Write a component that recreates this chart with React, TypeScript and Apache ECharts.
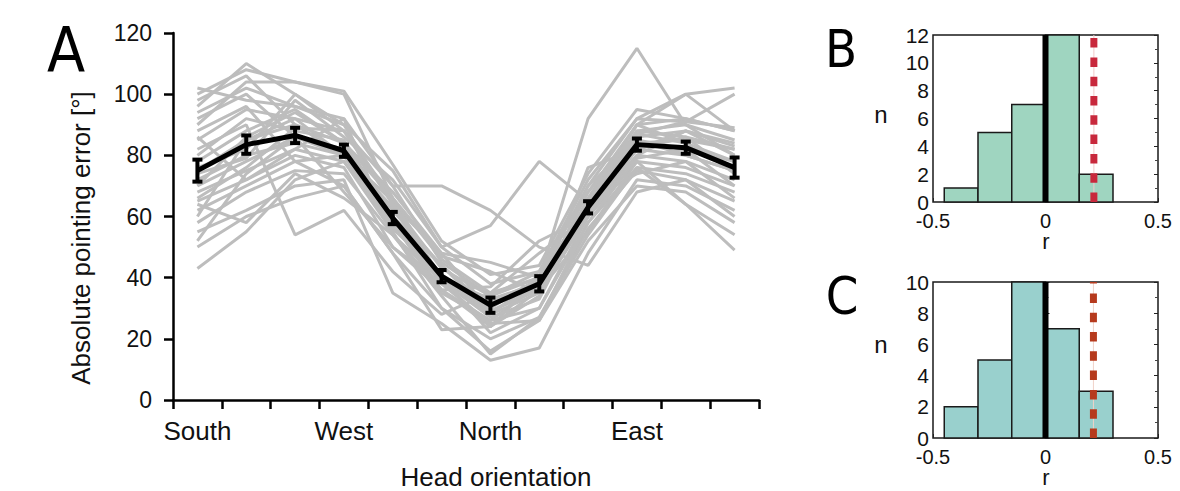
import React, { useEffect, useRef } from "react";
import * as echarts from "echarts";

// ---------- Panel A data ----------
const headOrientations = ["South", "", "", "West", "", "", "North", "", "", "East", "", ""];
const yTicksA = [0, 20, 40, 60, 80, 100, 120];
const meanError = [75, 83.5, 86.5, 81.5, 59.5, 40.5, 31, 38, 63, 83.5, 82.5, 76];
const semError = [3.6, 3, 2.5, 2, 2, 2, 2.5, 2.5, 2, 2, 2, 3.3];
const subjectErrors = [
  [102, 98, 96, 92, 70, 45, 34, 40, 70, 92, 91, 89],
  [96, 110, 100, 90, 75, 50, 38, 42, 72, 92, 100, 102],
  [90, 104, 104, 101, 77, 52, 41, 44, 74, 95, 92, 88],
  [85, 95, 92, 88, 64, 48, 29, 36, 66, 90, 92, 88],
  [80, 92, 88, 85, 60, 44, 28, 40, 62, 88, 90, 85],
  [78, 88, 95, 84, 66, 46, 35, 40, 64, 86, 88, 80],
  [75, 85, 90, 80, 58, 36, 24, 34, 64, 84, 85, 82],
  [72, 80, 84, 80, 65, 40, 33, 38, 60, 85, 82, 78],
  [70, 78, 86, 82, 62, 44, 30, 40, 63, 82, 80, 75],
  [68, 75, 82, 78, 58, 35, 26, 38, 62, 80, 78, 72],
  [65, 72, 80, 76, 50, 36, 26, 30, 60, 78, 76, 70],
  [62, 70, 78, 80, 57, 40, 22, 30, 58, 76, 74, 68],
  [60, 85, 92, 80, 63, 40, 28, 35, 60, 82, 86, 74],
  [58, 68, 75, 74, 54, 34, 15, 27, 56, 75, 72, 65],
  [55, 62, 70, 72, 35, 25, 13, 17, 48, 72, 70, 62],
  [50, 60, 66, 70, 48, 30, 16, 26, 52, 70, 68, 58],
  [43, 55, 72, 78, 55, 30, 20, 27, 54, 76, 64, 49],
  [98, 106, 90, 84, 58, 38, 32, 39, 65, 88, 86, 82],
  [92, 100, 86, 80, 56, 41, 29, 37, 68, 90, 84, 78],
  [88, 96, 78, 70, 48, 23, 24, 40, 70, 85, 80, 75],
  [82, 90, 54, 62, 42, 28, 35, 48, 60, 80, 88, 83],
  [76, 82, 100, 88, 70, 70, 62, 50, 44, 68, 72, 60],
  [74, 79, 98, 86, 72, 50, 57, 78, 65, 74, 78, 66],
  [70, 86, 94, 84, 68, 48, 45, 40, 92, 115, 90, 80],
  [66, 76, 89, 88, 66, 47, 42, 35, 76, 82, 88, 84],
  [64, 58, 74, 66, 54, 39, 24, 36, 55, 78, 64, 54],
  [100, 108, 104, 100, 66, 39, 27, 33, 64, 90, 100, 88],
  [94, 102, 96, 90, 64, 43, 34, 42, 68, 87, 91, 100],
  [86, 72, 82, 92, 54, 36, 37, 52, 60, 87, 84, 76],
  [52, 74, 86, 68, 50, 38, 25, 26, 58, 79, 82, 70],
];

// ---------- Panels B & C data ----------
const binStarts = [-0.45, -0.3, -0.15, 0, 0.15];
const binEnds = [-0.3, -0.15, 0, 0.15, 0.3];
const countsB = [1, 5, 7, 12, 2];
const countsC = [2, 5, 10, 7, 3];
const observedRB = 0.215;
const observedRC = 0.213;
const yMaxB = 12;
const yMaxC = 10;

const FONT = "'Liberation Sans', Arial, Helvetica, sans-serif";
const LETTER_FONT = "'Liberation Sans Narrow', 'DejaVu Sans Condensed', 'Liberation Sans', sans-serif";

function histSeries(counts: number[], xi: number, yi: number, fill: string) {
  return {
    type: "custom",
    xAxisIndex: xi,
    yAxisIndex: yi,
    silent: true,
    z: 2,
    data: counts.map((c, i) => [binStarts[i], binEnds[i], c]),
    encode: { x: [0, 1], y: 2 },
    renderItem: (params: any, api: any) => {
      const p0 = api.coord([api.value(0), 0]);
      const p1 = api.coord([api.value(1), api.value(2)]);
      return {
        type: "rect",
        shape: { x: p0[0], y: p1[1], width: p1[0] - p0[0], height: p0[1] - p1[1] },
        style: { fill, stroke: "#1a1a1a", lineWidth: 1.5 },
      };
    },
  };
}

function vline(x: number, ymax: number, xi: number, yi: number, style: any, z: number) {
  return {
    type: "line",
    xAxisIndex: xi,
    yAxisIndex: yi,
    silent: true,
    symbol: "none",
    z,
    data: [
      [x, 0],
      [x, ymax],
    ],
    lineStyle: style,
  };
}

function histAxes(gi: number, ymax: number) {
  const x = {
    type: "value",
    gridIndex: gi,
    min: -0.5,
    max: 0.5,
    interval: 0.5,
    splitLine: { show: false },
    axisLine: { show: false },
    axisTick: { show: true, inside: true, length: 4, lineStyle: { color: "#222" } },
    axisLabel: { fontSize: 20, color: "#111", fontFamily: FONT, margin: 11, lineHeight: 16 },
  };
  const yl = {
    type: "value",
    gridIndex: gi,
    min: 0,
    max: ymax,
    interval: 2,
    position: "left",
    splitLine: { show: false },
    axisLine: { show: false },
    axisTick: { show: true, inside: true, length: 4, lineStyle: { color: "#222" } },
    minorTick: { show: true, splitNumber: 2, length: 3, lineStyle: { color: "#444" } },
    axisLabel: { fontSize: 21, color: "#111", fontFamily: FONT, margin: 4, lineHeight: 15 },
  };
  const yr = {
    type: "value",
    gridIndex: gi,
    min: 0,
    max: ymax,
    interval: 2,
    position: "right",
    splitLine: { show: false },
    axisLine: { show: false },
    axisTick: { show: true, inside: true, length: 4, lineStyle: { color: "#222" } },
    minorTick: { show: true, splitNumber: 2, length: 3, lineStyle: { color: "#444" } },
    axisLabel: { show: false },
  };
  return { x, yl, yr };
}

export default function App() {
  const ref = useRef<HTMLDivElement>(null);
  useEffect(() => {
    const chart = echarts.init(ref.current!, null, { renderer: "svg" });
    const axB = histAxes(1, yMaxB);
    const axC = histAxes(2, yMaxC);

    const option: any = {
      animation: false,
      backgroundColor: "#ffffff",
      grid: [
        { left: 173, right: 421, top: 33, bottom: 91 },
        { left: 933, right: 22, top: 35, bottom: 289, show: true, borderColor: "#1a1a1a", borderWidth: 1.5, backgroundColor: "transparent" },
        { left: 933, right: 22, top: 282, bottom: 53, show: true, borderColor: "#1a1a1a", borderWidth: 1.5, backgroundColor: "transparent" },
      ],
      xAxis: [
        {
          type: "category",
          gridIndex: 0,
          data: headOrientations,
          boundaryGap: true,
          axisLine: { lineStyle: { color: "#000", width: 2.5 } },
          axisTick: { show: true, interval: 0, length: 9, lineStyle: { color: "#000", width: 2.5 } },
          axisLabel: { interval: 0, fontSize: 26, color: "#111", fontFamily: FONT, margin: 18 },
          splitLine: { show: false },
        },
        axB.x,
        axC.x,
      ],
      yAxis: [
        {
          type: "value",
          gridIndex: 0,
          min: yTicksA[0],
          max: yTicksA[yTicksA.length - 1],
          interval: 20,
          axisLine: { show: true, lineStyle: { color: "#000", width: 2.5 } },
          axisTick: { show: true, length: 9, lineStyle: { color: "#000", width: 2.5 } },
          axisLabel: { fontSize: 23, color: "#111", fontFamily: FONT, margin: 21 },
          splitLine: { show: false },
        },
        axB.yl,
        axC.yl,
        axB.yr,
        axC.yr,
      ],
      series: [
        ...subjectErrors.map((row) => ({
          type: "line",
          xAxisIndex: 0,
          yAxisIndex: 0,
          data: row,
          symbol: "none",
          silent: true,
          z: 1,
          lineStyle: { color: "#bdbdbd", width: 3 },
        })),
        {
          type: "line",
          xAxisIndex: 0,
          yAxisIndex: 0,
          data: meanError,
          symbol: "none",
          silent: true,
          z: 5,
          lineStyle: { color: "#000", width: 5 },
        },
        {
          type: "custom",
          xAxisIndex: 0,
          yAxisIndex: 0,
          silent: true,
          z: 6,
          data: meanError.map((m, i) => [i, m - semError[i], m + semError[i]]),
          encode: { x: 0, y: [1, 2] },
          renderItem: (params: any, api: any) => {
            const a = api.coord([api.value(0), api.value(1)]);
            const b = api.coord([api.value(0), api.value(2)]);
            const hw = 5;
            return {
              type: "group",
              children: [
                { type: "line", shape: { x1: a[0], y1: a[1], x2: b[0], y2: b[1] }, style: { stroke: "#000", lineWidth: 4 } },
                { type: "line", shape: { x1: a[0] - hw, y1: a[1], x2: a[0] + hw, y2: a[1] }, style: { stroke: "#000", lineWidth: 4 } },
                { type: "line", shape: { x1: b[0] - hw, y1: b[1], x2: b[0] + hw, y2: b[1] }, style: { stroke: "#000", lineWidth: 4 } },
              ],
            };
          },
        },
        histSeries(countsB, 1, 1, "#9fd5c0"),
        vline(0, yMaxB, 1, 1, { color: "#000", width: 6 }, 4),
        vline(observedRB, yMaxB, 1, 1, { color: "#f2c9c9", width: 1 }, 3),
        vline(observedRB, yMaxB, 1, 1, { color: "#c8283c", width: 7, type: [9.5, 9.8] }, 5),
        histSeries(countsC, 2, 2, "#99d0cd"),
        vline(0, yMaxC, 2, 2, { color: "#000", width: 6 }, 4),
        vline(observedRC, yMaxC, 2, 2, { color: "#f0d2c8", width: 1 }, 3),
        vline(observedRC, yMaxC, 2, 2, { color: "#b63a1d", width: 7, type: [9.5, 9.8] }, 5),
      ],
      graphic: [
        { type: "text", x: 66, y: 50, style: { text: "A", fontSize: 62, fontFamily: LETTER_FONT, fill: "#000", align: "center", verticalAlign: "middle" } },
        { type: "text", x: 841, y: 49, style: { text: "B", fontSize: 52, fontFamily: LETTER_FONT, fill: "#000", align: "center", verticalAlign: "middle" } },
        { type: "text", x: 842, y: 296, style: { text: "C", fontSize: 52, fontFamily: LETTER_FONT, fill: "#000", align: "center", verticalAlign: "middle" } },
        {
          type: "text",
          x: 81,
          y: 238,
          rotation: Math.PI / 2,
          style: { text: "Absolute pointing error [°]", fontSize: 26, fontFamily: FONT, fill: "#111", align: "center", verticalAlign: "middle" },
        },
        { type: "text", x: 496, y: 477, style: { text: "Head orientation", fontSize: 26, lineHeight: 26, fontFamily: FONT, fill: "#111", align: "center", verticalAlign: "middle" } },
        { type: "text", x: 881, y: 114, style: { text: "n", fontSize: 24, lineHeight: 16, fontFamily: FONT, fill: "#111", align: "center", verticalAlign: "middle" } },
        { type: "text", x: 1046, y: 241, style: { text: "r", fontSize: 22, lineHeight: 14, fontFamily: FONT, fill: "#111", align: "center", verticalAlign: "middle" } },
        { type: "text", x: 881, y: 344, style: { text: "n", fontSize: 24, lineHeight: 16, fontFamily: FONT, fill: "#111", align: "center", verticalAlign: "middle" } },
        { type: "text", x: 1046, y: 477, style: { text: "r", fontSize: 22, lineHeight: 14, fontFamily: FONT, fill: "#111", align: "center", verticalAlign: "middle" } },
      ],
    };
    chart.setOption(option);
    return () => chart.dispose();
  }, []);
  return (
    <div
      ref={ref}
      style={{ position: "fixed", left: 0, top: 0, width: 1180, height: 491, background: "#fff" }}
    />
  );
}
